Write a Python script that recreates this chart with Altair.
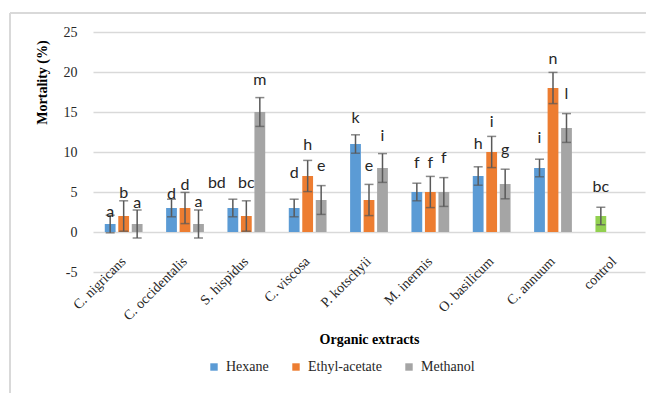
import altair as alt
import pandas as pd

extracts = ["C. nigricans", "C. occidentalis", "S. hispidus", "C. viscosa",
            "P. kotschyii", "M. inermis", "O. basilicum", "C. annuum", "control"]
series = ["Hexane", "Ethyl-acetate", "Methanol"]

hexane = [1, 3, 3, 3, 11, 5, 7, 8]
ethyl = [2, 3, 2, 7, 4, 5, 10, 18]
methanol = [1, 1, 15, 4, 8, 5, 6, 13]
control_value = 2

hexane_err = [1.1, 1.1, 1.1, 1.1, 1.15, 1.1, 1.15, 1.1]
ethyl_err = [1.9, 1.95, 1.9, 1.95, 1.95, 1.95, 1.95, 1.95]
methanol_err = [1.75, 1.75, 1.8, 1.8, 1.8, 1.8, 1.85, 1.8]
control_err = 1.1

hexane_lbl = ["a", "d", "bd", "d", "k", "f", "h", "i"]
ethyl_lbl = ["b", "d", "bc", "h", "e", "f", "i", "n"]
methanol_lbl = ["a", "a", "m", "e", "i", "f", "g", "l"]
control_lbl = "bc"

hexane_lbl_y = [2.5, 4.7, 6.1, 7.4, 14.3, 8.6, 11.0, 11.8]
ethyl_lbl_y = [4.9, 5.9, 6.1, 10.9, 8.2, 8.6, 13.8, 21.6]
methanol_lbl_y = [3.6, 3.8, 19.0, 8.2, 12.0, 9.2, 10.3, 17.2]
control_lbl_y = 5.6

y_ticks = [-5, 0, 5, 10, 15, 20, 25]

colors = ["#5B9BD5", "#ED7D31", "#A5A5A5", "#92D050"]

rows = []
groups = [
    ("Hexane", hexane, hexane_err, hexane_lbl, hexane_lbl_y),
    ("Ethyl-acetate", ethyl, ethyl_err, ethyl_lbl, ethyl_lbl_y),
    ("Methanol", methanol, methanol_err, methanol_lbl, methanol_lbl_y),
]
for i, ext in enumerate(extracts[:8]):
    for s, vals, errs, lbls, lys in groups:
        rows.append(dict(extract=ext, series=s, slot=s, value=vals[i], err=errs[i],
                         label=lbls[i], label_y=lys[i]))
rows.append(dict(extract="control", series="control", slot="Hexane", value=control_value,
                 err=control_err, label=control_lbl, label_y=control_lbl_y))
df = pd.DataFrame(rows)
df["low"] = df["value"] - df["err"]
df["high"] = df["value"] + df["err"]

serif = "Liberation Serif"
txt = "#262626"

x = alt.X("extract:N", sort=extracts,
          scale=alt.Scale(paddingInner=0.34, paddingOuter=0.17),
          axis=alt.Axis(title="Organic extracts", labelAngle=-45, labelAlign="right",
                        labelBaseline="middle", labelFont=serif, labelFontSize=14,
                        labelColor=txt, labelPadding=2, offset=-15, domain=False,
                        ticks=False, grid=False, titleFont=serif, titleFontSize=14,
                        titleFontWeight="bold", titleColor="#000", titleY=75,
                        titleBaseline="top"))
xo = alt.XOffset("slot:N", sort=series,
                 scale=alt.Scale(domain=series, paddingInner=0.2, paddingOuter=0.1))
yscale = alt.Scale(domain=[-5, 25], nice=False)
yaxis = alt.Axis(title="Mortality (%)", values=y_ticks, labelOverlap=False,
                 labelExpr="datum.value + ''",
                 labelFont=serif, labelFontSize=14, labelColor=txt,
                 labelPadding=16, domain=False, ticks=False,
                 gridColor="#d9d9d9", gridWidth=1.3,
                 titleFont=serif, titleFontSize=14, titleFontWeight="bold",
                 titleColor="#000", titleX=-51, titleY=50, titleAngle=-90,
                 titleAlign="center", titleBaseline="middle")

base = alt.Chart(df).encode(x=x, xOffset=xo)

bars = base.mark_bar().encode(
    y=alt.Y("value:Q", scale=yscale, axis=yaxis),
    color=alt.Color("series:N",
                    scale=alt.Scale(domain=series + ["control"], range=colors),
                    legend=alt.Legend(values=series, title=None, orient="none",
                                      direction="horizontal", legendX=114, legendY=328,
                                      symbolType="square", symbolSize=55,
                                      symbolStrokeWidth=0, labelFont=serif,
                                      labelFontSize=14, labelColor=txt, labelOffset=5,
                                      columnPadding=20, padding=0)),
)

err_color = "#595959"
ylow = alt.Y("low:Q", scale=yscale, axis=yaxis)
yhigh = alt.Y("high:Q", scale=yscale, axis=yaxis)
rule = base.mark_rule(color=err_color, strokeWidth=1.5).encode(y=ylow, y2="high:Q")
tick_lo = base.mark_tick(color=err_color, size=9, thickness=1.5).encode(y=ylow)
tick_hi = base.mark_tick(color=err_color, size=9, thickness=1.5).encode(y=yhigh)

label_font = dict(font="Lato", fontSize=16, color=txt, baseline="middle", align="center")
ylab = alt.Y("label_y:Q", scale=yscale, axis=yaxis)
labels = base.mark_text(**label_font).encode(y=ylab, text="label:N").transform_filter(
    "!(datum.extract == 'S. hispidus' && datum.series == 'Hexane')")
label_bd = base.mark_text(dx=-16, **label_font).encode(y=ylab, text="label:N").transform_filter(
    "datum.extract == 'S. hispidus' && datum.series == 'Hexane'")

# light chart-area border: only its top and left edges fall inside the picture
border_top = alt.Chart(df).mark_rule(color="#d9d9d9", strokeWidth=1.5).encode(
    x=alt.value(-83), x2=alt.value(553), y=alt.value(-19))
border_left = alt.Chart(df).mark_rule(color="#d9d9d9", strokeWidth=1.5).encode(
    x=alt.value(-83), y=alt.value(-19), y2=alt.value(361))

chart = alt.layer(bars, rule, tick_lo, tick_hi, labels, label_bd,
                  border_top, border_left).properties(
    width=552, height=240,
    background="white",
    autosize=alt.AutoSizeParams(type="none"),
    padding={"left": 85, "top": 24, "right": 1, "bottom": 121},
).configure_view(stroke=None)

chart.save("out.html", embed_options={"renderer": "svg", "actions": False})
